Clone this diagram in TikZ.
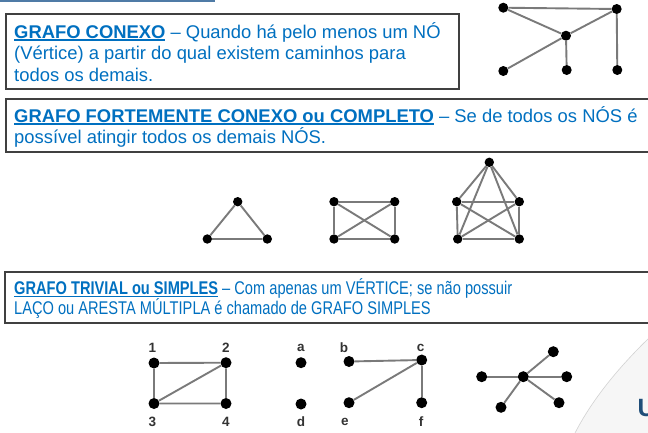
\documentclass[tikz,border=0pt]{standalone}
\usepackage{fontspec}
\setmainfont{Liberation Sans}
\usepackage{graphicx}
\definecolor{txtblue}{HTML}{0070C0}
\definecolor{edgegray}{HTML}{7A7A7A}
\definecolor{ublue}{HTML}{1F4E79}
\definecolor{barblue}{HTML}{4F7BA6}
\newcommand\ulx[1]{{\setbox0\hbox{#1}\rlap{\rule[-2.8pt]{\wd0}{1.4pt}}\box0}}
\begin{document}
\begin{tikzpicture}[x=1pt,y=-1pt,
  vtx/.style={circle,fill=black,inner sep=0pt,minimum size=11pt},
  vtxt/.style={vtx,minimum size=10pt},
  vtxs/.style={vtx,minimum size=9.4pt},
  edge/.style={draw=edgegray,line width=1.9pt},
  txt/.style={anchor=base west,inner sep=0pt,text=txtblue,font=\fontsize{18.4}{21.5}\selectfont},
  lab/.style={inner sep=0pt,text=black!80,font=\bfseries\fontsize{13.5}{13.5}\selectfont},
  frame/.style={draw=black!75,line width=1.3pt}]
\useasboundingbox (0,0) rectangle (648,432);
\clip (0,0) rectangle (648,432);
\fill[white] (0,0) rectangle (648,432);
% decorative corner
\fill[gray!7] (649,338) .. controls (618,368) and (592,400) .. (575,433) -- (649,433) -- cycle;
\draw[gray!35,line width=0.6pt] (649,338) .. controls (618,368) and (592,400) .. (575,433);
\node[anchor=base west,inner sep=0pt,text=ublue,font=\bfseries\fontsize{25}{25}\selectfont] (u) at (637.5,416.5) {U};
% top bar
\fill[barblue] (0,0) rectangle (215,1.6);
% frames
\draw[frame] (6,14) rectangle (459,89);
\draw[frame] (6,99) rectangle (655,152);
\draw[frame] (5,272) rectangle (655,323);
% texts
\node[txt] (t1a) at (14,38) {\ulx{\bfseries GRAFO CONEXO} – Quando há pelo menos um NÓ};
\node[txt] (t1b) at (14,59.5) {(Vértice) a partir do qual existem caminhos para};
\node[txt] (t1c) at (14,81) {todos os demais.};
\node[txt] (t2a) at (14,122) {\ulx{\bfseries GRAFO FORTEMENTE CONEXO ou COMPLETO} – Se de todos os NÓS é};
\node[txt] (t2b) at (14,143.5) {possível atingir todos os demais NÓS.};
\node[txt] (t3a) at (14,294.5) {\scalebox{0.795}[1]{\ulx{\bfseries GRAFO TRIVIAL ou SIMPLES} – Com apenas um VÉRTICE; se não possuir}};
\node[txt] (t3b) at (14,314.7) {\scalebox{0.795}[1]{LAÇO ou ARESTA MÚLTIPLA é chamado de GRAFO SIMPLES}};
% connected graph
\node[vtxt] (A) at (503.3,7.7) {};
\node[vtxt] (B) at (616.7,9) {};
\node[vtxt] (C) at (566,35.7) {};
\node[vtxt] (D) at (503.3,71) {};
\node[vtxt] (E) at (566.7,70) {};
\node[vtxt] (F) at (617.3,70) {};
\draw[edge] (A) -- (B);
\draw[edge] (A) -- (C);
\draw[edge] (B) -- (C);
\draw[edge] (C) -- (D);
\draw[edge] (C) -- (E);
\draw[edge] (B) -- (F);
% triangle
\node[vtxs] (T1) at (237.7,201.7) {};
\node[vtxs] (T2) at (207.3,239) {};
\node[vtxs] (T3) at (267.3,239) {};
\draw[edge] (T1) -- (T2) -- (T3) -- (T1);
% K4
\node[vtxs] (R1) at (334,201.7) {};
\node[vtxs] (R2) at (394.7,201.7) {};
\node[vtxs] (R3) at (334,239) {};
\node[vtxs] (R4) at (394.7,239) {};
\draw[edge] (R1) -- (R2) -- (R4) -- (R3) -- (R1);
\draw[edge] (R1) -- (R4);
\draw[edge] (R2) -- (R3);
% K5
\node[vtxs] (K1) at (489.3,162.3) {};
\node[vtxs] (K2) at (456.7,201.7) {};
\node[vtxs] (K3) at (519.3,201.7) {};
\node[vtxs] (K4) at (457.7,239) {};
\node[vtxs] (K5) at (519.3,239) {};
\foreach \p/\q in {K1/K2,K1/K3,K1/K4,K1/K5,K2/K3,K2/K4,K2/K5,K3/K4,K3/K5,K4/K5}
  \draw[edge] (\p) -- (\q);
% bottom graph 1-4
\node[vtx] (n1) at (154,363) {};
\node[vtx] (n2) at (226,362.7) {};
\node[vtx] (n3) at (154,403.5) {};
\node[vtx] (n4) at (226,403.5) {};
\draw[edge] (n1) -- (n2) -- (n4) -- (n3) -- (n1);
\draw[edge] (n3) -- (n2);
\node[lab] (l1) at (152.3,347.5) {1};
\node[lab] (l2) at (226,347.5) {2};
\node[lab] (l3) at (152.3,422) {3};
\node[lab] (l4) at (226,422) {4};
% bottom graph a-f
\node[vtx] (va) at (301,362.7) {};
\node[vtx] (vd) at (301,404) {};
\node[vtx] (vb) at (349,361.5) {};
\node[vtx] (vc) at (421.7,360) {};
\node[vtx] (ve) at (349,402.7) {};
\node[vtx] (vf) at (421.7,402.7) {};
\draw[edge] (vb) -- (vc);
\draw[edge] (vc) -- (ve);
\draw[edge] (vc) -- (vf);
\node[lab] (la) at (301,347.5) {a};
\node[lab] (lb) at (344,347.5) {b};
\node[lab] (lc) at (420.7,347.5) {c};
\node[lab] (ld) at (301,422) {d};
\node[lab] (le) at (345,422) {e};
\node[lab] (lf) at (421,422) {f};
% star
\node[vtx] (s0) at (523.3,376.7) {};
\node[vtx] (s1) at (481.7,376.7) {};
\node[vtx] (s2) at (566.7,376.7) {};
\node[vtx] (s3) at (553.3,351.7) {};
\node[vtx] (s4) at (501,407.3) {};
\node[vtx] (s5) at (559,402.7) {};
\foreach \q in {s1,s2,s3,s4,s5} \draw[edge] (s0) -- (\q);
\end{tikzpicture}
\end{document}
